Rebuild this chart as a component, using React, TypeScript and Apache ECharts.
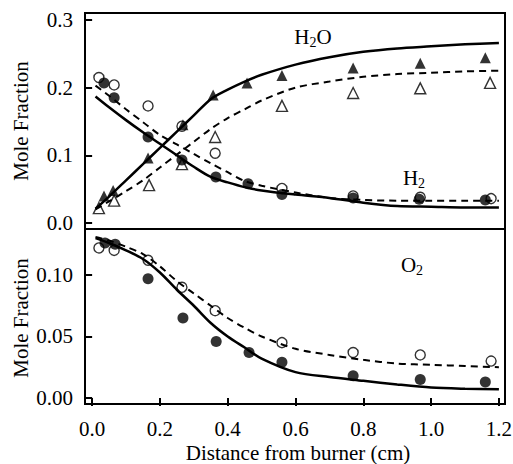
import React, { useEffect, useRef } from "react";
import * as echarts from "echarts";

// ---- data ----
const curveX = [0.01, 0.05, 0.1, 0.15, 0.2, 0.25, 0.3, 0.35, 0.4, 0.45, 0.5, 0.6, 0.7, 0.8, 0.9, 1.0, 1.1, 1.2];
const h2oSolidY = [0.021, 0.039, 0.063, 0.087, 0.111, 0.135, 0.159, 0.183, 0.197, 0.209, 0.219, 0.234, 0.245, 0.253, 0.258, 0.261, 0.264, 0.266];
const h2oDashY = [0.020, 0.032, 0.047, 0.063, 0.082, 0.101, 0.120, 0.139, 0.155, 0.168, 0.181, 0.200, 0.209, 0.216, 0.220, 0.222, 0.224, 0.225];
const h2SolidY = [0.187, 0.171, 0.152, 0.134, 0.117, 0.100, 0.083, 0.068, 0.060, 0.053, 0.048, 0.042, 0.037, 0.030, 0.025, 0.024, 0.023, 0.023];
const h2DashY = [0.203, 0.188, 0.168, 0.149, 0.130, 0.116, 0.102, 0.088, 0.075, 0.062, 0.055, 0.045, 0.037, 0.034, 0.033, 0.033, 0.033, 0.033];
const o2SolidY = [0.130, 0.126, 0.120, 0.113, 0.102, 0.088, 0.075, 0.061, 0.050, 0.041, 0.032, 0.021, 0.017, 0.014, 0.011, 0.0085, 0.0075, 0.007];
const o2DashY = [0.131, 0.128, 0.123, 0.117, 0.107, 0.095, 0.085, 0.075, 0.065, 0.057, 0.050, 0.040, 0.035, 0.031, 0.028, 0.027, 0.026, 0.025];

const h2FilledX = [0.035, 0.065, 0.165, 0.265, 0.365, 0.46, 0.56, 0.77, 0.965, 1.16];
const h2FilledY = [0.207, 0.185, 0.127, 0.093, 0.068, 0.058, 0.042, 0.037, 0.035, 0.034];
const h2OpenX = [0.02, 0.065, 0.165, 0.265, 0.363, 0.56, 0.77, 0.968, 1.177];
const h2OpenY = [0.215, 0.204, 0.173, 0.143, 0.103, 0.051, 0.040, 0.038, 0.036];
const h2oFilledX = [0.035, 0.062, 0.165, 0.268, 0.357, 0.457, 0.56, 0.77, 0.968, 1.16];
const h2oFilledY = [0.040, 0.048, 0.096, 0.145, 0.189, 0.207, 0.218, 0.229, 0.236, 0.244];
const h2oOpenX = [0.02, 0.065, 0.168, 0.265, 0.363, 0.56, 0.77, 0.968, 1.174];
const h2oOpenY = [0.022, 0.033, 0.056, 0.087, 0.127, 0.173, 0.192, 0.199, 0.207];
const o2FilledX = [0.038, 0.068, 0.165, 0.268, 0.366, 0.463, 0.56, 0.77, 0.968, 1.16];
const o2FilledY = [0.126, 0.125, 0.097, 0.065, 0.046, 0.037, 0.029, 0.018, 0.015, 0.013];
const o2OpenX = [0.02, 0.065, 0.165, 0.265, 0.363, 0.56, 0.77, 0.968, 1.177];
const o2OpenY = [0.122, 0.120, 0.112, 0.090, 0.071, 0.045, 0.037, 0.035, 0.030];

const xTicks = [0, 0.2, 0.4, 0.6, 0.8, 1.0, 1.2];
const topYTicks = [0, 0.1, 0.2, 0.3];
const bottomYTicks = [0, 0.05, 0.1];

const FONT = "Liberation Serif";
const FS = 21;

const zip = (xs: number[], ys: number[]) => xs.map((x, i) => [x, ys[i]]);

export default function App() {
  const ref = useRef<HTMLDivElement>(null);
  useEffect(() => {
    if (!ref.current) return;
    const chart = echarts.init(ref.current, null, { renderer: "svg" });

    const lineSeries = (name: string, ys: number[], dashed: boolean, gi: number) => ({
      name,
      type: "line",
      xAxisIndex: gi,
      yAxisIndex: gi,
      data: zip(curveX, ys),
      showSymbol: false,
      symbol: "none",
      smooth: 0.3,
      lineStyle: {
        color: "#000",
        width: dashed ? 2 : 2.5,
        type: dashed ? [7, 5] : "solid",
      },
      z: 2,
    });

    const scatter = (name: string, xs: number[], ys: number[], symbol: string, filled: boolean, gi: number, size: number) => ({
      name,
      type: "scatter",
      xAxisIndex: gi,
      yAxisIndex: gi,
      data: zip(xs, ys),
      symbol,
      symbolSize: size,
      itemStyle: filled
        ? { color: "#000" }
        : { color: "rgba(255,255,255,0)", borderColor: "#000", borderWidth: 1.4 },
      z: 3,
    });

    const yAxisCommon = (ticks: number[], min: number, max: number, gi: number) => ({
      type: "value",
      gridIndex: gi,
      min,
      max,
      axisLine: { show: false },
      axisTick: { show: true, length: 8, lineStyle: { color: "#000", width: 2 }, customValues: ticks },
      axisLabel: { show: false },
      splitLine: { show: false },
    });

    chart.setOption({
      animation: false,
      backgroundColor: "#fff",
      grid: [
        { left: 85, right: 8, top: 13, height: 216, show: true, borderColor: "#000", borderWidth: 2, backgroundColor: "transparent" },
        { left: 85, right: 8, top: 229, height: 175, show: true, borderColor: "#000", borderWidth: 2, backgroundColor: "transparent" },
      ],
      xAxis: [
        { type: "value", gridIndex: 0, min: -0.021, max: 1.218, show: false, splitLine: { show: false } },
        {
          type: "value",
          gridIndex: 1,
          min: -0.021,
          max: 1.218,
          axisLine: { show: false },
          axisTick: { show: true, length: 8, lineStyle: { color: "#000", width: 2 }, customValues: xTicks },
          axisLabel: { show: false },
          splitLine: { show: false },
        },
      ],
      yAxis: [
        yAxisCommon(topYTicks, -0.0089, 0.3103, 0),
        yAxisCommon(bottomYTicks, -0.0049, 0.1374, 1),
      ],
      series: [
        lineSeries("H2O model", h2oSolidY, false, 0),
        lineSeries("H2O model 2", h2oDashY, true, 0),
        lineSeries("H2 model", h2SolidY, false, 0),
        lineSeries("H2 model 2", h2DashY, true, 0),
        lineSeries("O2 model", o2SolidY, false, 1),
        lineSeries("O2 model 2", o2DashY, true, 1),
        scatter("H2 open", h2OpenX, h2OpenY, "circle", false, 0, 10),
        scatter("H2O open", h2oOpenX, h2oOpenY, "triangle", false, 0, 11),
        scatter("H2 filled", h2FilledX, h2FilledY, "circle", true, 0, 11),
        scatter("H2O filled", h2oFilledX, h2oFilledY, "triangle", true, 0, 11),
        scatter("O2 open", o2OpenX, o2OpenY, "circle", false, 1, 10),
        scatter("O2 filled", o2FilledX, o2FilledY, "circle", true, 1, 11),
      ],
    });

    const richA = { a: { fontFamily: FONT, fontSize: FS, fill: "#000" } };
    // Axis texts placed through the axes' own scales
    const txt = (text: string, x: number, y: number, align: string, vAlign: string, rotation = 0) => ({
      type: "text",
      x,
      y,
      rotation,
      style: { text: `{a|${text}}`, rich: richA, align, verticalAlign: vAlign },
    });
    const sub = (a: string, b: string, c: string, x: number, y: number) => ({
      type: "text",
      x,
      y,
      style: {
        text: `{a|${a}}{b|${b}}` + (c ? `{a|${c}}` : ""),
        rich: {
          ...richA,
          b: { fontFamily: FONT, fontSize: 14, fill: "#000", padding: [10, 0, 0, 0] },
        },
        align: "center",
        verticalAlign: "middle",
      },
    });

    const gridLeft = 85;
    const gridBottom = 404;
    const graphics: any[] = [];
    xTicks.forEach((v) => {
      const px = chart.convertToPixel({ xAxisIndex: 1 }, v) as number;
      graphics.push(txt(v.toFixed(1), px, gridBottom + 14, "center", "top"));
    });
    topYTicks.forEach((v) => {
      const py = chart.convertToPixel({ yAxisIndex: 0 }, v) as number;
      graphics.push(txt(v.toFixed(1), gridLeft - 12, py, "right", "middle"));
    });
    bottomYTicks.forEach((v) => {
      const py = chart.convertToPixel({ yAxisIndex: 1 }, v) as number;
      graphics.push(txt(v.toFixed(2), gridLeft - 12, py, "right", "middle"));
    });
    graphics.push(txt("Mole Fraction", 21, 121, "center", "middle", Math.PI / 2));
    graphics.push(txt("Mole Fraction", 21, 318, "center", "middle", Math.PI / 2));
    graphics.push(txt("Distance from burner (cm)", 298, 453, "center", "middle"));
    graphics.push(sub("H", "2", "O", 313, 37));
    graphics.push(sub("H", "2", "", 414, 178));
    graphics.push(sub("O", "2", "", 412, 265));

    chart.setOption({ graphic: graphics });

    return () => chart.dispose();
  }, []);
  return (
    <div
      ref={ref}
      style={{ position: "fixed", left: 0, top: 0, width: 513, height: 464, background: "#fff" }}
    />
  );
}
